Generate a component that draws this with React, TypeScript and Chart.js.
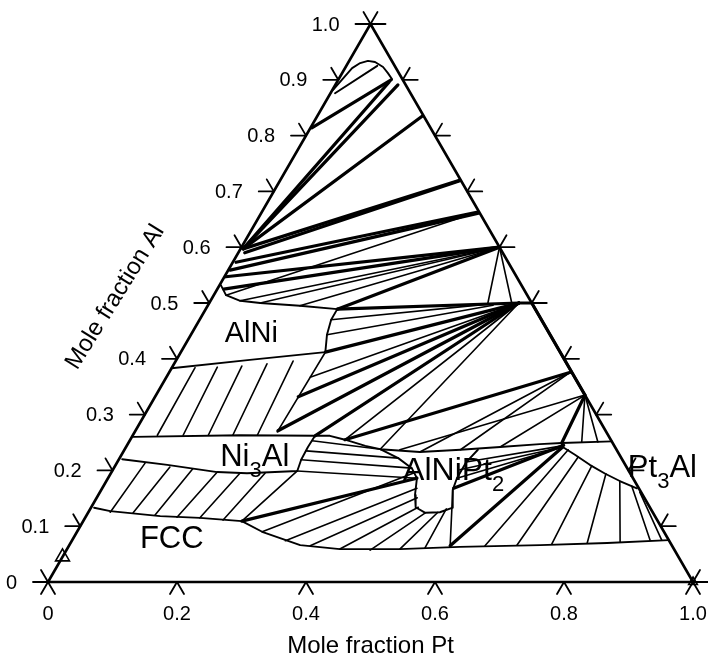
import React, { useEffect, useRef } from "react";
import { Chart, registerables } from "chart.js";

Chart.register(...registerables);

type P = [number, number]; // [mole fraction Pt, mole fraction Al]

// ---- axis ticks ----
const alTickValues = [0, 0.1, 0.2, 0.3, 0.4, 0.5, 0.6, 0.7, 0.8, 0.9, 1.0];
const alTickLabels = ["0", "0.1", "0.2", "0.3", "0.4", "0.5", "0.6", "0.7", "0.8", "0.9", "1.0"];
const ptTickValues = [0, 0.2, 0.4, 0.6, 0.8, 1.0];
const ptTickLabels = ["0", "0.2", "0.4", "0.6", "0.8", "1.0"];

// ---- triangle ----
const triangleEdge: P[] = [[0, 0], [1, 0], [0, 1], [0, 0]];

// ---- phase boundaries ----
const liquidBoundary: P[] = [[0.001, 0.882], [0.011, 0.921], [0.019, 0.930], [0.029, 0.934], [0.041, 0.932], [0.058, 0.923], [0.071, 0.912], [0.083, 0.901]];
const liquidChord: P[] = [[0.048, 0.925], [0.007, 0.876]];
const alNiBoundary: P[] = [[0.002, 0.532], [0.019, 0.514], [0.046, 0.504], [0.079, 0.500], [0.143, 0.495], [0.204, 0.489], [0.204, 0.470], [0.211, 0.443], [0.224, 0.412], [0.114, 0.398], [0.000, 0.383]];
const ni3AlBoundary: P[] = [[0.003, 0.260], [0.166, 0.263], [0.283, 0.262], [0.282, 0.242], [0.283, 0.219], [0.287, 0.199], [0.211, 0.195], [0.164, 0.197], [0.080, 0.210], [0.005, 0.220]];
const fccBoundary: P[] = [[0.005, 0.133], [0.033, 0.127], [0.115, 0.118], [0.178, 0.115], [0.246, 0.109], [0.287, 0.090], [0.358, 0.066], [0.423, 0.059], [0.516, 0.059], [0.607, 0.063], [0.730, 0.066], [0.832, 0.070], [0.925, 0.075]];
const alNiPt2Top: P[] = [[0.283, 0.262], [0.306, 0.262], [0.333, 0.255], [0.370, 0.244], [0.396, 0.238], [0.460, 0.233], [0.521, 0.237], [0.580, 0.242], [0.639, 0.247], [0.672, 0.249], [0.748, 0.252]];
const alNiPt2Outline: P[] = [[0.396, 0.238], [0.432, 0.222], [0.462, 0.204], [0.479, 0.186], [0.491, 0.156], [0.503, 0.134], [0.523, 0.124], [0.545, 0.125], [0.560, 0.133], [0.545, 0.165], [0.541, 0.186], [0.541, 0.215], [0.548, 0.237]];
const pt3AlBoundary: P[] = [[0.672, 0.249], [0.677, 0.242], [0.703, 0.228], [0.735, 0.210], [0.767, 0.194], [0.796, 0.181], [0.829, 0.168]];

// ---- tie lines ----
const thickTies: [P, P][] = [
  [[0.002, 0.814], [0.082, 0.900]],
  [[0.004, 0.597], [0.081, 0.896]],
  [[0.005, 0.600], [0.097, 0.891]],
  [[0.004, 0.597], [0.163, 0.835]],
  [[0.004, 0.597], [0.278, 0.720]],
  [[0.010, 0.590], [0.279, 0.719]],
  [[0.005, 0.573], [0.335, 0.663]],
  [[0.003, 0.559], [0.337, 0.661]],
  [[0.002, 0.547], [0.400, 0.600]],
  [[0.010, 0.525], [0.400, 0.600]],
  [[0.204, 0.489], [0.400, 0.600]],
  [[0.204, 0.489], [0.480, 0.500]],
  [[0.480, 0.500], [0.500, 0.500]],
  [[0.224, 0.412], [0.475, 0.498]],
  [[0.480, 0.500], [0.221, 0.271]],
  [[0.480, 0.500], [0.222, 0.332]],
  [[0.480, 0.500], [0.283, 0.262]],
  [[0.622, 0.376], [0.333, 0.255]],
  [[0.665, 0.335], [0.672, 0.249]],
  [[0.500, 0.500], [0.665, 0.335]],
  [[0.246, 0.109], [0.479, 0.186]],
  [[0.591, 0.065], [0.677, 0.242]],
  [[0.545, 0.168], [0.677, 0.245]],
];

const thinTies: [P, P][] = [
  [[0.079, 0.500], [0.400, 0.600]],
  [[0.143, 0.495], [0.400, 0.600]],
  [[0.046, 0.504], [0.400, 0.600]],
  [[0.019, 0.514], [0.335, 0.663]],
  [[0.400, 0.600], [0.432, 0.500]],
  [[0.400, 0.600], [0.469, 0.500]],
  [[0.204, 0.470], [0.433, 0.498]],
  [[0.211, 0.443], [0.442, 0.496]],
  [[0.480, 0.500], [0.223, 0.367]],
  [[0.480, 0.500], [0.333, 0.255]],
  [[0.480, 0.500], [0.396, 0.238]],
  [[0.622, 0.376], [0.460, 0.233]],
  [[0.622, 0.376], [0.521, 0.237]],
  [[0.665, 0.335], [0.427, 0.237]],
  [[0.665, 0.335], [0.580, 0.242]],
  [[0.665, 0.335], [0.702, 0.251]],
  [[0.665, 0.335], [0.727, 0.251]],
  // AlNi + Ni3Al
  [[0.036, 0.384], [0.038, 0.263]],
  [[0.070, 0.385], [0.078, 0.263]],
  [[0.107, 0.387], [0.117, 0.263]],
  [[0.144, 0.391], [0.155, 0.263]],
  [[0.182, 0.396], [0.193, 0.263]],
  [[0.224, 0.410], [0.221, 0.269]],
  // Ni3Al + FCC
  [[0.044, 0.213], [0.034, 0.125]],
  [[0.086, 0.206], [0.070, 0.124]],
  [[0.123, 0.203], [0.106, 0.120]],
  [[0.164, 0.197], [0.142, 0.116]],
  [[0.200, 0.195], [0.178, 0.115]],
  [[0.239, 0.195], [0.216, 0.111]],
  [[0.287, 0.199], [0.246, 0.109]],
  // Ni3Al + AlNiPt2
  [[0.283, 0.219], [0.462, 0.204]],
  [[0.283, 0.235], [0.432, 0.222]],
  [[0.283, 0.253], [0.396, 0.238]],
  [[0.287, 0.199], [0.479, 0.186]],
  // FCC + AlNiPt2
  [[0.287, 0.090], [0.470, 0.196]],
  [[0.331, 0.074], [0.488, 0.168]],
  [[0.374, 0.065], [0.497, 0.151]],
  [[0.423, 0.059], [0.507, 0.134]],
  [[0.471, 0.057], [0.523, 0.124]],
  [[0.516, 0.059], [0.542, 0.125]],
  [[0.554, 0.061], [0.552, 0.131]],
  // AlNiPt2 + Pt3Al
  [[0.541, 0.215], [0.675, 0.244]],
  [[0.538, 0.201], [0.677, 0.242]],
  [[0.541, 0.186], [0.677, 0.242]],
  // Pt3Al + FCC
  [[0.688, 0.237], [0.645, 0.065]],
  [[0.710, 0.224], [0.694, 0.066]],
  [[0.739, 0.208], [0.747, 0.068]],
  [[0.768, 0.194], [0.801, 0.070]],
  [[0.796, 0.181], [0.851, 0.072]],
  [[0.819, 0.172], [0.896, 0.075]],
  [[0.837, 0.161], [0.914, 0.075]],
  [[0.591, 0.065], [0.545, 0.165]],
];

const markerPoints: P[] = [[0.0, 0.045], [1.0, 0.0]];

// ---- text annotations (anchored in composition space) ----
const phaseLabels = [
  { parts: [{ t: "AlNi" }], at: [0.059, 0.430] as P, size: 29 },
  { parts: [{ t: "Ni" }, { t: "3", sub: true }, { t: "Al" }], at: [0.163, 0.208] as P, size: 31 },
  { parts: [{ t: "AlNiPt" }, { t: "2", sub: true }], at: [0.459, 0.183] as P, size: 32 },
  { parts: [{ t: "Pt" }, { t: "3", sub: true }, { t: "Al" }], at: [0.805, 0.188] as P, size: 31 },
  { parts: [{ t: "FCC" }], at: [0.112, 0.061] as P, size: 31 },
];

const SQ = Math.sqrt(3) / 2;
const toXY = ([pt, al]: P) => ({ x: pt + al / 2, y: al * SQ });
const FONT = '"Liberation Sans", Arial, Helvetica, sans-serif';

function lineDs(pts: P[], width: number) {
  return {
    data: pts.map(toXY),
    showLine: true,
    borderColor: "#000",
    backgroundColor: "#000",
    borderWidth: width,
    pointRadius: 0,
    pointHoverRadius: 0,
    tension: 0,
    fill: false,
    clip: false as any,
    borderJoinStyle: "round" as const,
    borderCapStyle: "round" as const,
  };
}

const overlay = {
  id: "ternaryOverlay",
  beforeDraw(chart: any) {
    const { ctx, width, height } = chart;
    ctx.save();
    ctx.fillStyle = "#fff";
    ctx.fillRect(0, 0, width, height);
    ctx.restore();
  },
  afterDatasetsDraw(chart: any) {
    const { ctx } = chart;
    const xs = chart.scales.x;
    const ys = chart.scales.y;
    const pix = (p: P) => {
      const c = toXY(p);
      return [xs.getPixelForValue(c.x), ys.getPixelForValue(c.y)];
    };
    ctx.save();
    ctx.strokeStyle = "#000";
    ctx.lineWidth = 1.8;
    ctx.lineCap = "round";
    const seg = (x: number, y: number, dx: number, dy: number) => {
      ctx.beginPath();
      ctx.moveTo(x, y);
      ctx.lineTo(x + dx, y + dy);
      ctx.stroke();
    };
    // left & right edge ticks
    alTickValues.forEach((a) => {
      if (a <= 0 || a >= 1) return;
      const [lx, ly] = pix([0, a]);
      seg(lx, ly, -15, 0);
      seg(lx, ly, -7, -12);
      const [rx, ry] = pix([1 - a, a]);
      seg(rx, ry, 15, 0);
      seg(rx, ry, 7, -12);
    });
    // bottom ticks
    ptTickValues.forEach((p) => {
      if (p <= 0 || p >= 1) return;
      const [bx, by] = pix([p, 0]);
      seg(bx, by, -7, 12);
      seg(bx, by, 7, 12);
    });
    // vertex stars
    const [ax, ay] = pix([0, 1]);
    seg(ax, ay, -15, 0); seg(ax, ay, 15, 0); seg(ax, ay, -7, -12); seg(ax, ay, 7, -12);
    const [ox, oy] = pix([0, 0]);
    seg(ox, oy, -15, 0); seg(ox, oy, -7, -12); seg(ox, oy, -7, 12); seg(ox, oy, 7, 12);
    const [qx, qy] = pix([1, 0]);
    seg(qx, qy, 15, 0); seg(qx, qy, 7, -12); seg(qx, qy, 7, 12); seg(qx, qy, -7, 12);

    // tick labels
    ctx.fillStyle = "#000";
    ctx.font = `20px ${FONT}`;
    ctx.textAlign = "right";
    ctx.textBaseline = "middle";
    alTickValues.forEach((a, i) => {
      const [lx, ly] = pix([0, a]);
      ctx.fillText(alTickLabels[i], lx - 31, ly + 1);
    });
    ctx.textAlign = "center";
    ptTickValues.forEach((p, i) => {
      const [bx, by] = pix([p, 0]);
      ctx.fillText(ptTickLabels[i], bx, by + 32);
    });

    // axis titles
    ctx.font = `24px ${FONT}`;
    ctx.textAlign = "center";
    ctx.textBaseline = "alphabetic";
    const area = chart.chartArea;
    ctx.fillText("Mole fraction Pt", (area.left + area.right) / 2, chart.height - 3);
    const [mx, my] = pix([0, 0.5]);
    ctx.save();
    ctx.translate(mx - 94, my - 6);
    ctx.rotate(-Math.PI / 180 * 58);
    ctx.textBaseline = "middle";
    ctx.fillText("Mole fraction Al", 0, 0);
    ctx.restore();

    // phase labels
    ctx.textAlign = "left";
    ctx.textBaseline = "alphabetic";
    phaseLabels.forEach((lab) => {
      let [cx, cy] = pix(lab.at);
      lab.parts.forEach((part: any) => {
        ctx.font = `${part.sub ? 22 : lab.size}px ${FONT}`;
        ctx.fillText(part.t, cx, cy + (part.sub ? 11 : 0));
        cx += ctx.measureText(part.t).width;
      });
    });
    ctx.restore();
  },
};

export default function App() {
  const ref = useRef<HTMLCanvasElement | null>(null);
  useEffect(() => {
    if (!ref.current) return;
    const datasets: any[] = [];
    datasets.push(lineDs(triangleEdge, 2.6));
    [liquidBoundary, liquidChord, alNiBoundary, ni3AlBoundary, fccBoundary, alNiPt2Top, alNiPt2Outline, pt3AlBoundary].forEach((b) =>
      datasets.push(lineDs(b, 1.9))
    );
    thickTies.forEach((t) => datasets.push(lineDs(t, 3.2)));
    thinTies.forEach((t) => datasets.push(lineDs(t, 1.6)));
    datasets.push({
      data: markerPoints.map(toXY),
      showLine: false,
      pointStyle: "triangle",
      pointRadius: [8, 5],
      pointBorderWidth: 1.6,
      borderColor: "#000",
      backgroundColor: "rgba(255,255,255,0)",
      clip: false,
    });
    const chart = new Chart(ref.current, {
      type: "scatter",
      data: { datasets },
      options: {
        responsive: false,
        animation: false,
        events: [],
        layout: { padding: { left: 48, right: 15, top: 24, bottom: 74 } },
        scales: {
          x: { type: "linear", min: 0, max: 1, display: false },
          y: { type: "linear", min: 0, max: SQ, display: false },
        },
        plugins: { legend: { display: false }, tooltip: { enabled: false } },
      },
      plugins: [overlay],
    });
    return () => chart.destroy();
  }, []);
  return (
    <div style={{ position: "fixed", left: 0, top: 0, width: 708, height: 656, background: "#fff" }}>
      <canvas ref={ref} width={708} height={656} style={{ display: "block" }} />
    </div>
  );
}
